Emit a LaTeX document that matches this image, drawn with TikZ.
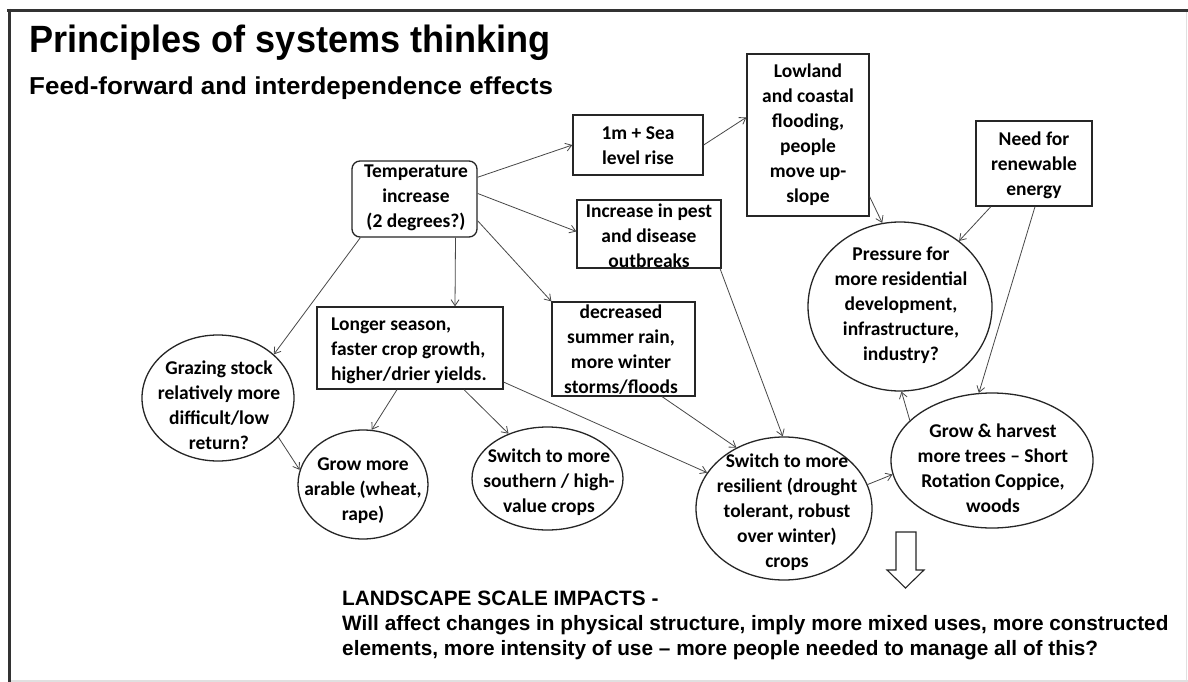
\documentclass[tikz,border=0pt]{standalone}
\usepackage{fontspec}
\setmainfont{Liberation Sans}
\newfontfamily\nodefont{Carlito}
\newfontfamily\titlefont[FakeStretch=0.95]{Liberation Sans}
\newfontfamily\subtitlefont[FakeStretch=1.06]{Liberation Sans}
\usetikzlibrary{arrows.meta,shapes.geometric}
\begin{document}
\begin{tikzpicture}[x=1pt,y=-1pt,
  box/.style={draw=black!85, line width=1.3pt, rectangle, inner sep=0pt},
  oval/.style={draw=black!85, line width=1.3pt, ellipse, inner sep=0pt},
  txt/.style={font=\nodefont\bfseries\fontsize{19.5}{25}\selectfont, align=center, inner sep=0pt},
  link/.style={draw=black!72, line width=0.8pt, -{Straight Barb[length=6pt,width=8pt]}},
  heading/.style={anchor=base west, inner sep=0pt}
]
\useasboundingbox (0,0) rectangle (1188,682);
\fill[white] (0,0) rectangle (1188,682);
% frame
\draw[black!80, line width=3pt] (7,10.5) -- (1188,10.5);
\draw[black!80, line width=3pt] (9.5,9) -- (9.5,682);
\draw[black!12, line width=1.2pt] (1186.5,12) -- (1186.5,682);
\draw[black!12, line width=1.2pt] (11,681) -- (1188,681);

% headings
\node[heading, font=\titlefont\bfseries\fontsize{38}{38}\selectfont] (title) at (29,53) {Principles of systems thinking};
\node[heading, font=\subtitlefont\bfseries\fontsize{24.5}{24.5}\selectfont] (subtitle) at (29,95) {Feed-forward and interdependence effects};

% shapes
\node[box, rounded corners=8pt, minimum width=125pt, minimum height=76pt] (temp) at (414.5,199) {};
\node[box, minimum width=130pt, minimum height=60pt] (sea) at (638,145) {};
\node[box, minimum width=144pt, minimum height=68pt] (pest) at (649,234) {};
\node[box, minimum width=122pt, minimum height=162pt] (low) at (808,135) {};
\node[box, minimum width=116pt, minimum height=85pt] (need) at (1034,163.5) {};
\node[box, minimum width=186pt, minimum height=82pt] (longer) at (410,348) {};
\node[box, minimum width=143pt, minimum height=94pt] (rain) at (623.5,349) {};
\node[oval, minimum width=184pt, minimum height=169pt] (press) at (900,306.5) {};
\node[oval, minimum width=202pt, minimum height=135pt] (grow) at (992,460.5) {};
\node[oval, minimum width=176pt, minimum height=143pt] (resil) at (784,508.5) {};
\node[oval, minimum width=151pt, minimum height=103pt] (south) at (547.5,478.5) {};
\node[oval, minimum width=130pt, minimum height=109pt] (arable) at (363,484.5) {};
\node[oval, minimum width=152pt, minimum height=126pt] (graze) at (218,398) {};

% texts
\node[txt] (temptxt) at (416,197.5) {Temperature\\increase\\(2 degrees?)};
\node[txt] (seatxt) at (638,146) {1m + Sea\\level rise};
\node[txt] (pesttxt) at (649,236) {Increase in pest\\and disease\\outbreaks};
\node[txt] (lowtxt) at (808,134.5) {Lowland\\and coastal\\flooding,\\people\\move up-\\slope};
\node[txt] (needtxt) at (1034,165) {Need for\\renewable\\energy};
\node[txt, align=left, anchor=west] (longertxt) at (331,351) {Longer season,\\faster crop growth,\\higher/drier yields.};
\node[txt] (raintxt) at (621,350) {decreased\\summer rain,\\more winter\\storms/floods};
\node[txt] (presstxt) at (901,305.5) {Pressure for\\more residential\\development,\\infrastructure,\\industry?};
\node[txt] (growtxt) at (993,468.5) {Grow \& harvest\\more trees – Short\\Rotation Coppice,\\woods};
\node[txt] (resiltxt) at (787,512.5) {Switch to more\\resilient (drought\\tolerant, robust\\over winter)\\crops};
\node[txt] (southtxt) at (549,482.5) {Switch to more\\southern / high-\\value crops};
\node[txt] (arabletxt) at (363,490.5) {Grow more\\arable (wheat,\\rape)};
\node[txt] (grazetxt) at (219,405.5) {Grazing stock\\relatively more\\difficult/low\\return?};

% connectors
\draw[link] (temp.19) -- (sea.west);
\draw[link] (temp.5) -- (pest.178);
\draw[link] (temp.-19) -- (rain.north west);
\draw[link] ([xshift=41pt]temp.south) -- ([xshift=45pt]longer.north);
\draw[link] ([xshift=9pt]temp.south west) -- (graze.38);
\draw[link] (sea.east) -- (low.164);
\draw[link] (low.-45) -- (press.102);
\draw[link] (need.225) -- (press.48);
\draw[link] ([xshift=1pt]need.south) -- (grow.101);
\draw[link] (grow.154) -- (press.-89);
\draw[link] (resil.16) -- (grow.188);
\draw[link] (pest.-26) -- (resil.91);
\draw[link] (rain.-51) -- (resil.128);
\draw[link] (longer.-20.6) -- (resil.155);
\draw[link] ([xshift=-13pt]longer.south) -- (arable.81);
\draw[link] ([xshift=54pt]longer.south) -- (south.131);
\draw[link] (graze.-33) -- (arable.167);

% big hollow arrow
\draw[black!85, line width=1.1pt, line join=miter] (896,532) -- (916,532) -- (916,570) -- (924,570) -- (905.5,588) -- (887,570) -- (896,570) -- cycle;

% bottom text
\node[heading, font=\bfseries\fontsize{20.8}{25}\selectfont] (impact) at (342,605) {LANDSCAPE SCALE IMPACTS -};
\node[heading, font=\bfseries\fontsize{20.8}{25}\selectfont] (impact2) at (342,630) {Will affect changes in physical structure, imply more mixed uses, more constructed};
\node[heading, font=\bfseries\fontsize{20.8}{25}\selectfont] (impact3) at (342,655) {elements, more intensity of use – more people needed to manage all of this?};
\end{tikzpicture}
\end{document}
